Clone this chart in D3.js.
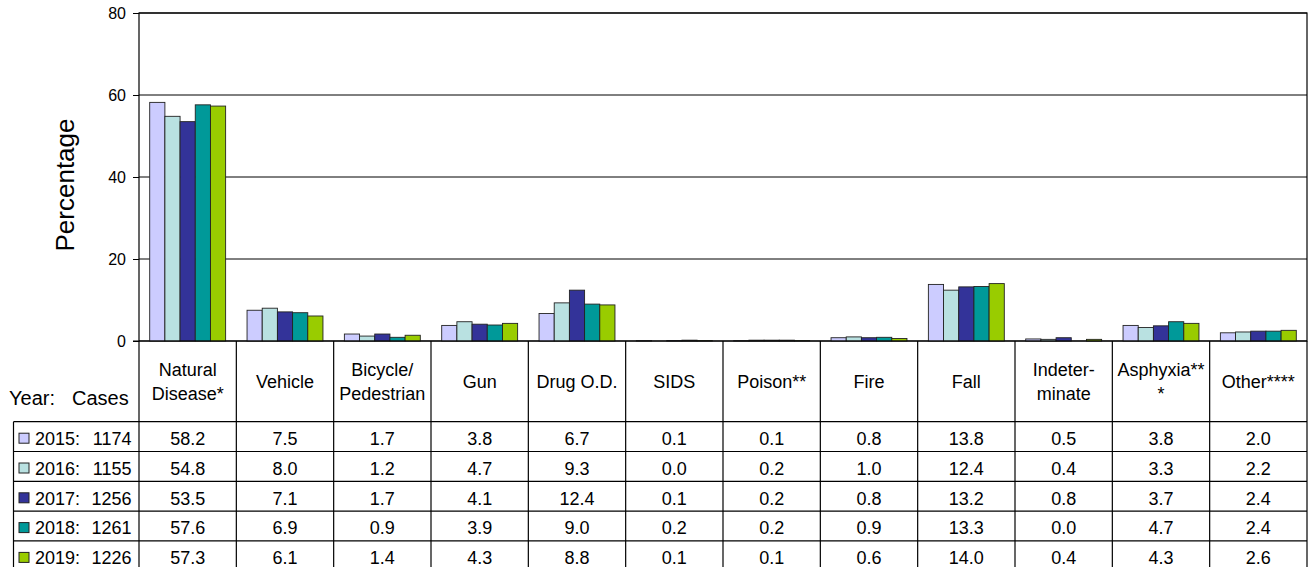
<!DOCTYPE html>
<html>
<head>
<meta charset="utf-8">
<script src="https://cdn.jsdelivr.net/npm/d3@7"></script>
<style>
  body { margin: 0; background: #fff; }
  svg text { font-family: "Liberation Sans", Arial, sans-serif; fill: #000; }
</style>
</head>
<body>
<svg id="chart" width="1313" height="567"></svg>
<script>
// data
const categories = [
  ["Natural", "Disease*"], ["Vehicle"], ["Bicycle/", "Pedestrian"], ["Gun"],
  ["Drug O.D."], ["SIDS"], ["Poison**"], ["Fire"], ["Fall"],
  ["Indeter-", "minate"], ["Asphyxia**", "*"], ["Other****"]
];
const years = ["2015", "2016", "2017", "2018", "2019"];
const cases = [1174, 1155, 1256, 1261, 1226];
const v2015 = [58.2, 7.5, 1.7, 3.8, 6.7, 0.1, 0.1, 0.8, 13.8, 0.5, 3.8, 2.0];
const v2016 = [54.8, 8.0, 1.2, 4.7, 9.3, 0.0, 0.2, 1.0, 12.4, 0.4, 3.3, 2.2];
const v2017 = [53.5, 7.1, 1.7, 4.1, 12.4, 0.1, 0.2, 0.8, 13.2, 0.8, 3.7, 2.4];
const v2018 = [57.6, 6.9, 0.9, 3.9, 9.0, 0.2, 0.2, 0.9, 13.3, 0.0, 4.7, 2.4];
const v2019 = [57.3, 6.1, 1.4, 4.3, 8.8, 0.1, 0.1, 0.6, 14.0, 0.4, 4.3, 2.6];
const series = [v2015, v2016, v2017, v2018, v2019];
const colors = ["#ccccff", "#b9e1e1", "#333399", "#009999", "#99cc00"];
const yTicks = [0, 20, 40, 60, 80];

const svg = d3.select("#chart");
const plotL = 139, plotR = 1307, plotT = 13, base = 341;
const headerBottom = 421.7, rowH = 29.8, legLeft = 13.5;

const x = d3.scaleBand().domain(d3.range(categories.length)).range([plotL, plotR]);
const cw = x.bandwidth();
const xIn = d3.scaleBand().domain(d3.range(years.length)).range([cw * 0.11, cw * 0.89]);
const y = d3.scaleLinear().domain([0, 80]).range([base, plotT]);

// plot frame
svg.append("rect").attr("x", plotL).attr("y", plotT).attr("width", plotR - plotL).attr("height", base - plotT)
  .attr("fill", "none").attr("stroke", "#000").attr("stroke-width", 1.2);

// gridlines
svg.selectAll(".grid").data(yTicks.filter(d => d > 0)).join("line")
  .attr("x1", plotL).attr("x2", plotR).attr("y1", d => y(d)).attr("y2", d => y(d))
  .attr("stroke", "#000").attr("stroke-width", 1);

// y axis
const yAxis = d3.axisLeft(y).tickValues(yTicks).tickSize(6).tickSizeOuter(0).tickPadding(7);
const ga = svg.append("g").attr("transform", `translate(${plotL},0)`).call(yAxis);
ga.select(".domain").remove();
ga.selectAll("line").attr("stroke", "#000");
ga.selectAll("text").style("font-size", "16px").style("font-family", "Liberation Sans, Arial, sans-serif");

svg.append("text").attr("transform", "translate(74,185) rotate(-90)")
  .attr("text-anchor", "middle").style("font-size", "26px").text("Percentage");

// bars
series.forEach((vals, si) => {
  svg.append("g").selectAll("rect").data(vals).join("rect")
    .attr("x", (d, i) => x(i) + xIn(si))
    .attr("y", d => y(d))
    .attr("width", xIn.bandwidth())
    .attr("height", d => base - y(d))
    .attr("fill", colors[si])
    .attr("stroke", "#222").attr("stroke-width", 0.9);
});

// data table
const tableBottom = headerBottom + rowH * years.length;
const tg = svg.append("g");
// vertical lines
d3.range(categories.length + 1).forEach(i => {
  const xx = i < categories.length ? x(i) : plotR;
  tg.append("line").attr("x1", xx).attr("x2", xx).attr("y1", base).attr("y2", tableBottom)
    .attr("stroke", "#000").attr("stroke-width", 1.2);
});
tg.append("line").attr("x1", legLeft).attr("x2", legLeft).attr("y1", headerBottom).attr("y2", tableBottom)
  .attr("stroke", "#000").attr("stroke-width", 1.2);
// horizontal lines
d3.range(years.length + 1).forEach(r => {
  const yy = headerBottom + r * rowH;
  tg.append("line").attr("x1", legLeft).attr("x2", plotR).attr("y1", yy).attr("y2", yy)
    .attr("stroke", "#000").attr("stroke-width", 1.2);
});
tg.append("line").attr("x1", plotL - 6).attr("x2", plotR).attr("y1", base).attr("y2", base)
  .attr("stroke", "#000").attr("stroke-width", 1.2);

// header labels
categories.forEach((lines, i) => {
  const cx = x(i) + cw / 2;
  const t = tg.append("text").attr("text-anchor", "middle").style("font-size", "18px");
  const y0 = lines.length === 1 ? 388 : 375.5;
  lines.forEach((ln, k) => {
    t.append("tspan").attr("x", cx).attr("y", y0 + k * 24).text(ln);
  });
});
tg.append("text").attr("x", 9).attr("y", 405).style("font-size", "20px").text("Year:");
tg.append("text").attr("x", 72).attr("y", 405).style("font-size", "20px").text("Cases");

// rows
years.forEach((yr, r) => {
  const rowTop = headerBottom + r * rowH;
  const cy = rowTop + 23.3;
  tg.append("rect").attr("x", 19).attr("y", rowTop + 11.5).attr("width", 10).attr("height", 10)
    .attr("fill", colors[r]).attr("stroke", "#222").attr("stroke-width", 1);
  tg.append("text").attr("x", 35).attr("y", cy).style("font-size", "18px").text(`${yr}:`);
  tg.append("text").attr("x", 131.5).attr("y", cy).attr("text-anchor", "end")
    .style("font-size", "18px").text(cases[r]);
  series[r].forEach((v, i) => {
    tg.append("text").attr("x", x(i) + cw / 2).attr("y", cy).attr("text-anchor", "middle")
      .style("font-size", "18px").text(v.toFixed(1));
  });
});
</script>
</body>
</html>
